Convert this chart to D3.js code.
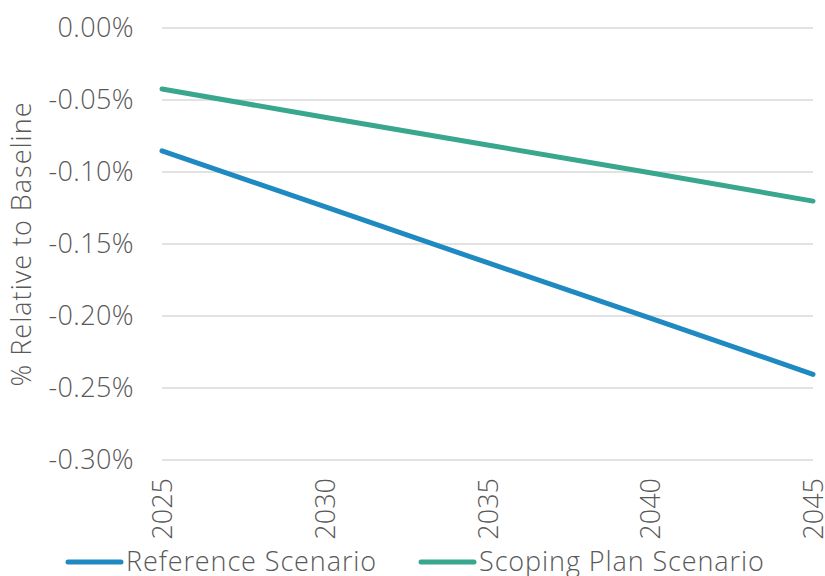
<!DOCTYPE html>
<html>
<head>
<meta charset="utf-8">
<script src="https://cdn.jsdelivr.net/npm/d3@7"></script>
<style>
  body { margin: 0; background: #fff; }
  text { font-family: "Open Sans", sans-serif; font-weight: 300; fill: #595959; }
</style>
</head>
<body>
<div class="chart"></div>
<script>
// data (values are already in percent)
var years = [2025, 2030, 2035, 2040, 2045];
var referenceScenario = [-0.0853, -0.1240, -0.1630, -0.2015, -0.2405];
var scopingPlanScenario = [-0.0424, -0.0620, -0.0812, -0.1005, -0.1202];
var yTicks = [0, -0.05, -0.10, -0.15, -0.20, -0.25, -0.30];
var seriesNames = ["Reference Scenario", "Scoping Plan Scenario"];
var colors = ["#1f89c2", "#39a68e"];

var margin = { top: 28, right: 12, bottom: 116, left: 162 },
    width = 825 - margin.left - margin.right,
    height = 576 - margin.top - margin.bottom;

var svg = d3.select(".chart").append("svg")
    .attr("width", 825)
    .attr("height", 576);

var g = svg.append("g")
    .attr("transform", "translate(" + margin.left + "," + margin.top + ")");

var x = d3.scaleLinear().domain([2025, 2045]).range([0, width]);
var y = d3.scaleLinear().domain([0, -0.30]).range([0, height]);

// gridlines
g.append("g")
  .selectAll("line")
  .data(yTicks)
  .enter().append("line")
    .attr("x1", 0)
    .attr("x2", width)
    .attr("y1", function(d) { return y(d); })
    .attr("y2", function(d) { return y(d); })
    .attr("stroke", "#d9d9d9")
    .attr("stroke-width", 1.5);

// y axis labels
var yAxis = g.append("g")
    .call(d3.axisLeft(y).tickValues(yTicks).tickSize(0).tickPadding(28)
      .tickFormat(function(d) { return d.toFixed(2) + "%"; }));
yAxis.select(".domain").remove();
yAxis.selectAll("text")
    .style("font-size", "27px")
    .style("font-family", "'Open Sans', sans-serif")
    .style("font-weight", 300)
    .style("letter-spacing", "0.4px")
    .attr("fill", "#595959");

// x axis labels (rotated)
var xAxis = g.append("g")
    .attr("transform", "translate(0," + height + ")")
    .call(d3.axisBottom(x).tickValues(years).tickSize(0).tickFormat(d3.format("d")));
xAxis.select(".domain").remove();
xAxis.selectAll("text")
    .style("font-size", "27px")
    .style("font-family", "'Open Sans', sans-serif")
    .style("font-weight", 300)
    .attr("fill", "#595959")
    .style("text-anchor", "end")
    .attr("dx", "-18")
    .attr("dy", "0.36em")
    .attr("y", 0)
    .attr("transform", "rotate(-90)");

// y axis title
svg.append("text")
    .attr("transform", "translate(31," + (margin.top + height / 2) + ") rotate(-90)")
    .style("text-anchor", "middle")
    .style("font-size", "27px")
    .style("letter-spacing", "1px")
    .text("% Relative to Baseline");

var line = d3.line()
    .x(function(d, i) { return x(years[i]); })
    .y(function(d) { return y(d); });

[referenceScenario, scopingPlanScenario].forEach(function(s, i) {
  g.append("path")
    .datum(s)
    .attr("fill", "none")
    .attr("stroke", colors[i])
    .attr("stroke-width", 5)
    .attr("stroke-linecap", "round")
    .attr("d", line);
});

// legend
var legendX = [68, 421];
var legend = svg.selectAll(".legend")
    .data(seriesNames)
    .enter().append("g")
    .attr("class", "legend")
    .attr("transform", function(d, i) { return "translate(" + legendX[i] + ",562)"; });
legend.append("line")
    .attr("x1", 0).attr("x2", 53)
    .attr("stroke", function(d, i) { return colors[i]; })
    .attr("stroke-width", 5)
    .attr("stroke-linecap", "round");
legend.append("text")
    .attr("x", 58)
    .attr("dy", "0.34em")
    .style("font-size", "27px")
    .style("letter-spacing", "0.9px")
    .text(function(d) { return d; });
</script>
</body>
</html>
